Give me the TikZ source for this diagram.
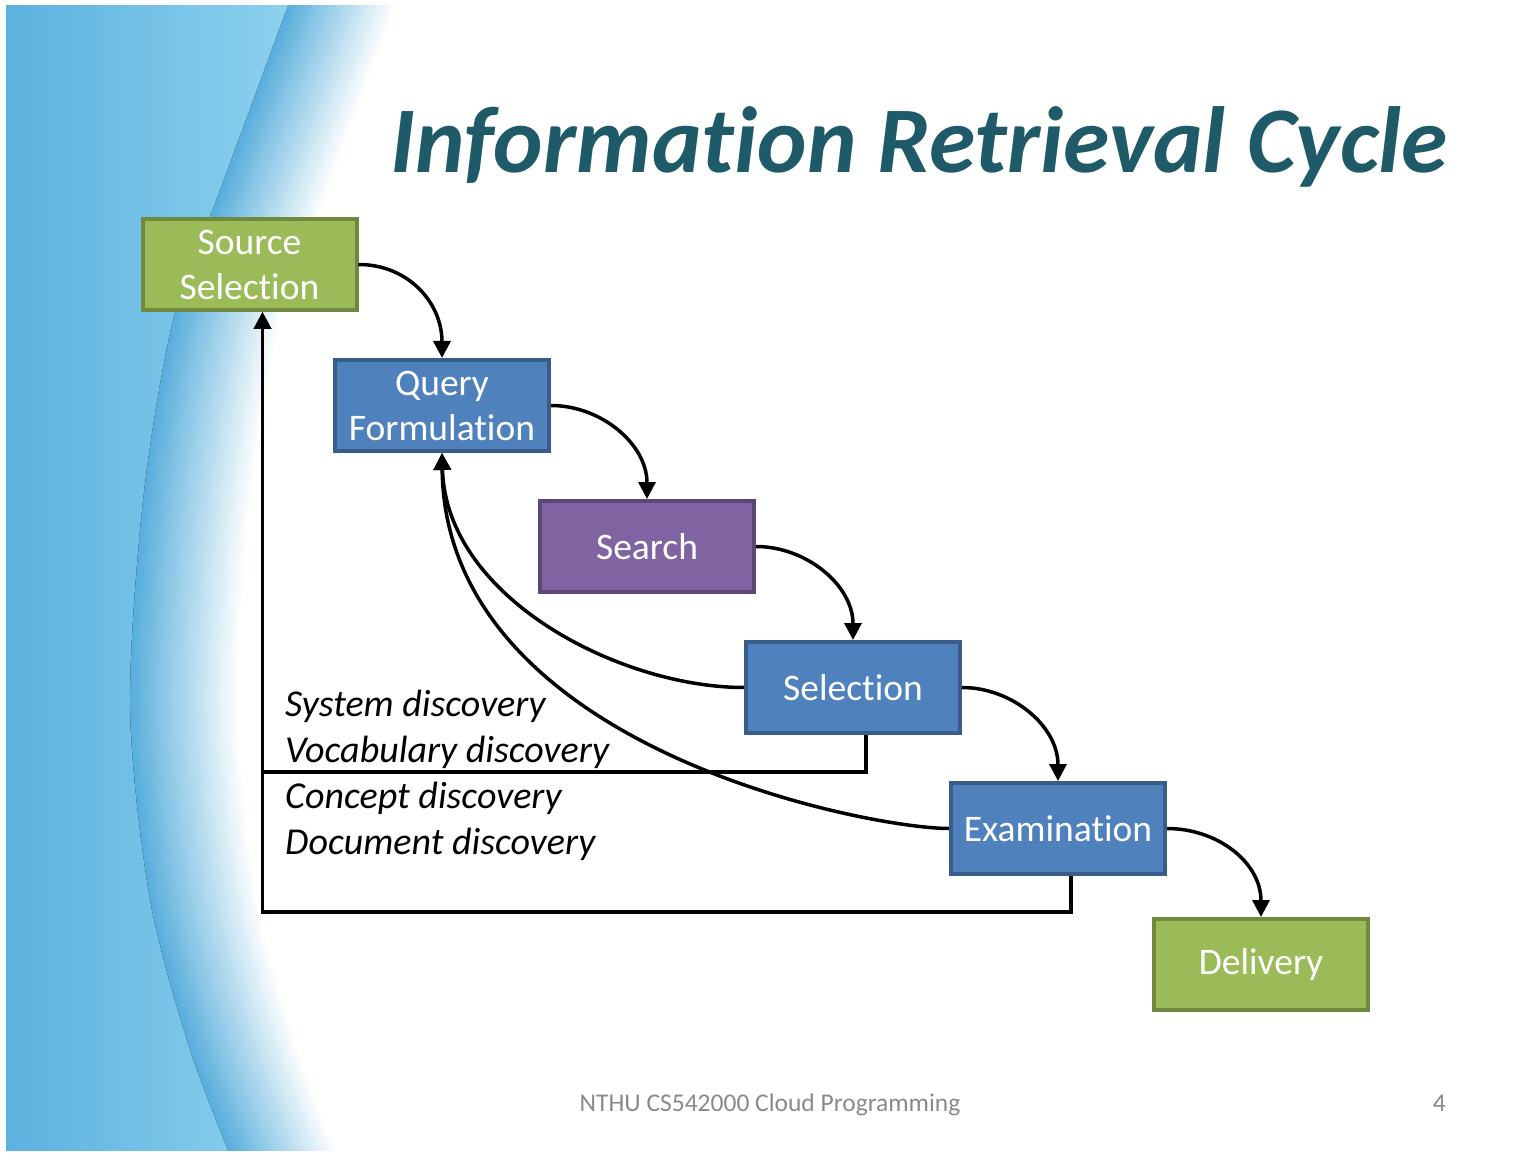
\documentclass[tikz,border=0pt]{standalone}
\usepackage{fontspec}
\setmainfont{Carlito}[Ligatures=NoCommon]
\usepackage{xcolor}
\usepackage{tikz}
\usetikzlibrary{arrows.meta}

\definecolor{boxgreen}{HTML}{9BBB59}
\definecolor{boxgreenline}{HTML}{71893F}
\definecolor{boxblue}{HTML}{4F81BD}
\definecolor{boxblueline}{HTML}{385D8A}
\definecolor{boxpurple}{HTML}{8064A2}
\definecolor{boxpurpleline}{HTML}{5C4776}
\definecolor{titleteal}{HTML}{1F5A69}
\definecolor{footgray}{HTML}{898989}
\definecolor{waveblue}{HTML}{58AEDC}
\definecolor{wavedark}{HTML}{5BB2DE}
\definecolor{wavelight}{HTML}{8DD1EE}

\begin{document}
\begin{tikzpicture}[x=1pt, y=-1pt,
  stage/.style={rectangle, minimum width=214pt, minimum height=91pt, inner sep=0pt, line width=4pt, text=white, align=center, font=\fontsize{37.5}{45}\selectfont},
  green stage/.style={stage, fill=boxgreen, draw=boxgreenline},
  blue stage/.style={stage, fill=boxblue, draw=boxblueline},
  purple stage/.style={stage, fill=boxpurple, draw=boxpurpleline},
  flow/.style={line width=3.5pt, -{Triangle[length=17pt, width=17pt]}},
  disc/.style={anchor=base west, inner sep=0pt, font=\itshape\fontsize{38}{46}\selectfont}]
\useasboundingbox (0,0) rectangle (1540,1155);

% background wave
\begin{scope}
  \clip (6,6) rectangle (1534,1150);
  \foreach \k in {36,35,...,0} {
    \pgfmathsetmacro\fade{100-\k*100/36}
    \draw[line width=4pt, waveblue!\fade!white, xshift={\k*3pt}] plot[smooth] coordinates {(290,0) (220,190) (173,320) (143,500) (130,710) (150,900) (190,1050) (232,1160)};
  }
  \fill[left color=wavedark, right color=wavelight] (6,0) -- plot[smooth] coordinates {(290,0) (220,190) (173,320) (143,500) (130,710) (150,900) (190,1050) (232,1160)} -- (6,1160) -- cycle;
\end{scope}

\node[anchor=base west, inner sep=0pt, text=titleteal, font=\bfseries\itshape\fontsize{94}{100}\selectfont] (title) at (390,173) {Information Retrieval Cycle};

\node[green stage] (src) at (249.5,264.5) {Source\\Selection};
\node[blue stage] (query) at (442,405.5) {Query\\Formulation};
\node[purple stage] (search) at (647,546.5) {Search};
\node[blue stage] (sel) at (853,687.5) {Selection};
\node[blue stage] (exam) at (1058,828.5) {Examination};
\node[green stage] (deliv) at (1261,964.5) {Delivery};

\foreach \a/\b in {src/query, query/search, search/sel, sel/exam, exam/deliv}
  \draw[flow] (\a.east) .. controls +(50,0) and +(0,-55) .. (\b.north);

\draw[flow] (sel.west) .. controls +(-124,0) and +(4,145) .. (query.south);
\draw[flow] (exam.west) .. controls +(-80,0) and +(3,295) .. (query.south);
\draw[flow] ([xshift=13pt]sel.south) -- ++(0,37) -| ([xshift=13pt]src.south);
\draw[flow] ([xshift=13pt]exam.south) -- ++(0,36) -| ([xshift=13pt]src.south);

\foreach \t [count=\i] in {System discovery, Vocabulary discovery, Concept discovery, Document discovery}
  \node[disc] (disc\i) at (285,670+46*\i) {\t};

\node[anchor=base, inner sep=0pt, text=footgray, font=\fontsize{25.5}{30}\selectfont] (footer) at (770,1111) {NTHU CS542000 Cloud Programming};
\node[anchor=base east, inner sep=0pt, text=footgray, font=\fontsize{25.5}{30}\selectfont] (pagenum) at (1446,1111) {4};
\end{tikzpicture}
\end{document}
